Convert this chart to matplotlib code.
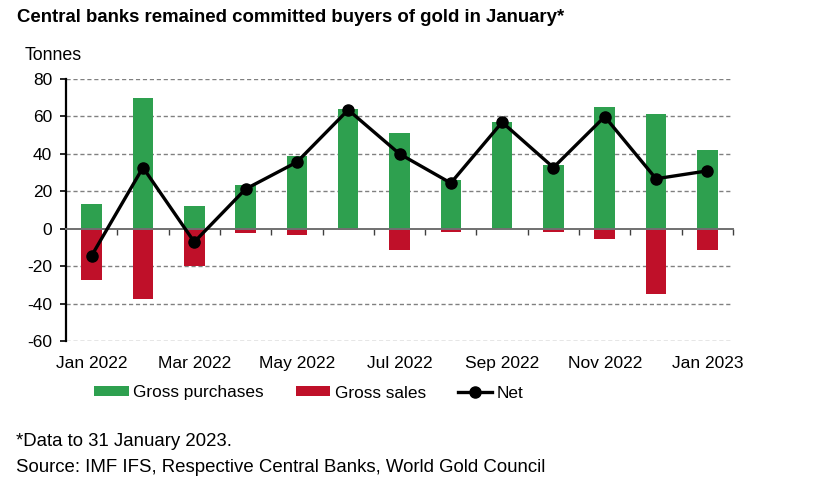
import matplotlib.pyplot as plt
import numpy as np

plt.rcParams['font.family'] = ['Liberation Sans', 'DejaVu Sans']
plt.rcParams['axes.unicode_minus'] = False

months = ["Jan 2022", "Feb 2022", "Mar 2022", "Apr 2022", "May 2022", "Jun 2022",
          "Jul 2022", "Aug 2022", "Sep 2022", "Oct 2022", "Nov 2022", "Dec 2022",
          "Jan 2023"]
gross_purchases = [13.0, 69.7, 12.3, 23.1, 38.8, 64.0, 51.2, 26.1, 57.2, 34.0, 65.2, 61.3, 42.1]
gross_sales = [-27.4, -37.5, -19.9, -2.1, -3.6, -0.5, -11.2, -2.0, -0.3, -1.6, -5.3, -34.8, -11.6]
net = [-14.4, 32.7, -7.1, 21.2, 35.6, 63.5, 40.0, 24.4, 56.9, 32.7, 59.9, 26.7, 30.9]

green = "#2EA04F"
red = "#BF1029"

fig = plt.figure(figsize=(8.26, 4.91), dpi=100)
ax = fig.add_axes([66 / 826, (491 - 341) / 491, (733 - 66) / 826, (341 - 79) / 491])

x = np.arange(len(months))
b1 = ax.bar(x, gross_purchases, width=0.4, color=green, zorder=2, label="Gross purchases")
b2 = ax.bar(x, gross_sales, width=0.4, color=red, zorder=2, label="Gross sales")
l1, = ax.plot(x, net, color="black", lw=2.4, marker="o", ms=8, zorder=4, label="Net")

ax.set_xlim(-0.5, len(months) - 0.5)
ax.set_ylim(-60, 80)
ax.set_yticks(np.arange(-60, 81, 20))
for yv in np.arange(-60, 81, 20):
    if yv != 0:
        ax.axhline(yv, color="#808080", lw=1, ls=(0, (3, 2)), zorder=1)

for s in ["top", "right"]:
    ax.spines[s].set_visible(False)
ax.spines["left"].set_linewidth(1.6)
ax.spines["bottom"].set_position(("data", 0))
ax.spines["bottom"].set_color("#707070")
ax.spines["bottom"].set_linewidth(1.4)
ax.spines["bottom"].set_zorder(3)

ax.set_xticks(x[:-1] + 0.5)
ax.set_xticks([len(months) - 0.5], minor=True)
ax.tick_params(axis="x", which="both", length=4, width=1, color="#404040", labelbottom=False)
ax.tick_params(axis="y", length=4, width=1.2, labelsize=12.5, pad=6)

sec = ax.secondary_xaxis(0)
sec.set_xticks(x[::2])
sec.set_xticklabels(months[::2])
sec.tick_params(length=0, labelsize=12.5, pad=11)
sec.spines["bottom"].set_visible(False)

fig.legend(handles=[b1, b2, l1], loc="center", bbox_to_anchor=(309 / 826, 1 - 393 / 491),
           ncol=3, frameon=False, fontsize=12.4, handlelength=2.0, handleheight=0.52,
           columnspacing=1.86, handletextpad=0.26)

fig.text(17 / 826, 1 - 18 / 491, "Central banks remained committed buyers of gold in January*",
         fontsize=13.4, fontweight="bold", va="center")
fig.text(25 / 826, 1 - 55 / 491, "Tonnes", fontsize=12.8, va="center")
fig.text(16 / 826, 1 - 442 / 491, "*Data to 31 January 2023.", fontsize=13.4, va="center")
fig.text(16 / 826, 1 - 467 / 491, "Source: IMF IFS, Respective Central Banks, World Gold Council",
         fontsize=13.4, va="center")

fig.savefig("out.png", dpi=100)
